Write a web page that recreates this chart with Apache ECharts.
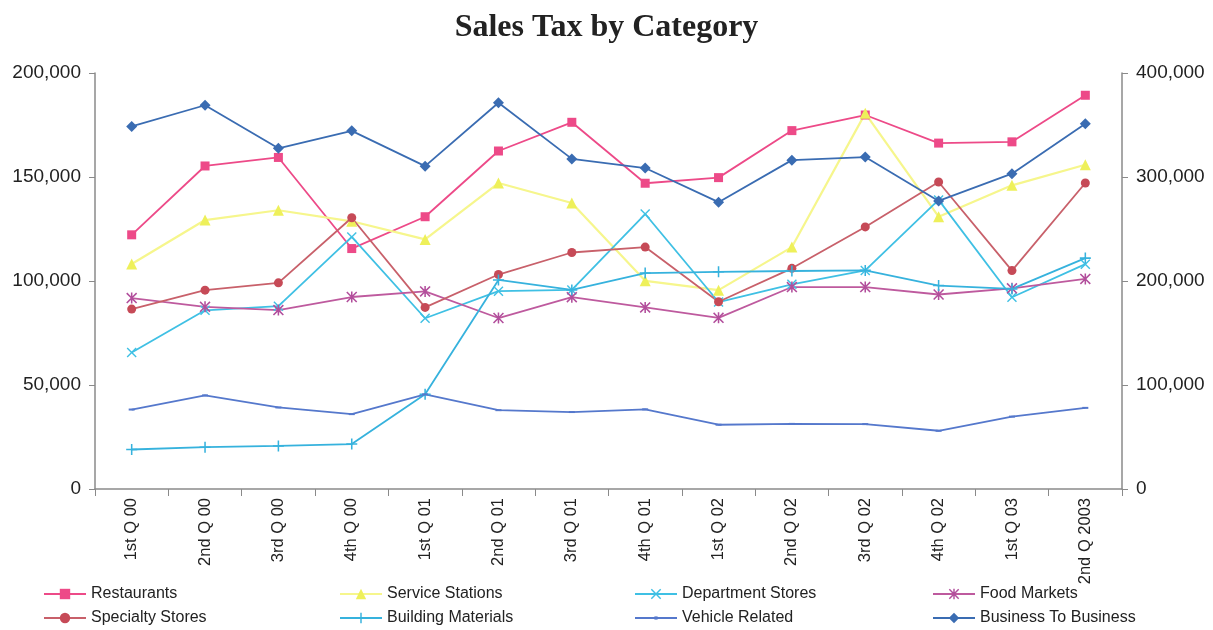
<!DOCTYPE html>
<html>
<head>
<meta charset="utf-8">
<title>Sales Tax by Category</title>
<script src="https://cdn.jsdelivr.net/npm/echarts@6/dist/echarts.min.js"></script>
<style>
  html, body { margin: 0; padding: 0; background: #ffffff; }
  #chart { width: 1213px; height: 630px; }
</style>
</head>
<body>
<div id="chart"></div>
<script>
// Quarterly periods on the x axis
const categories = ['1st Q 00', '2nd Q 00', '3rd Q 00', '4th Q 00', '1st Q 01', '2nd Q 01', '3rd Q 01',
  '4th Q 01', '1st Q 02', '2nd Q 02', '3rd Q 02', '4th Q 02', '1st Q 03', '2nd Q 2003'];

// Sales tax per category (left-axis units)
const restaurants        = [122200, 155300, 159400, 115600, 130900, 162500, 176300, 147000, 149700, 172300, 179800, 166300, 166900, 189300];
const serviceStations    = [108200, 129300, 134000, 128700, 120000, 147100, 137500, 100100,  95600, 116300, 180600, 130900, 146000, 155900];
const departmentStores   = [ 65600,  85900,  87900, 121200,  82100,  95100,  95700, 132200,  89900,  98400, 105100, 139000,  92200, 108100];
const foodMarkets        = [ 91800,  87600,  86000,  92300,  95000,  82200,  92200,  87300,  82300,  97100,  97100,  93500,  96500, 101000];
const specialtyStores    = [ 86500,  95600,  99100, 130400,  87300, 103100, 113700, 116300,  90000, 106100, 126000, 147600, 105000, 147100];
const buildingMaterials  = [ 19000,  20100,  20700,  21600,  45500, 100500,  95700, 103800, 104400, 104800, 105100,  97800,  96200, 111000];
const vehicleRelated     = [ 38200,  45000,  39200,  36000,  45500,  37900,  37000,  38300,  30900,  31300,  31200,  28000,  34800,  39000];
const businessToBusiness = [174300, 184500, 163800, 172200, 155200, 185700, 158700, 154300, 137900, 158100, 159600, 138500, 151600, 175600];

// Axis scales
const leftAxis  = { min: 0, max: 200000, step: 50000 };
const rightAxis = { min: 0, max: 400000, step: 100000 };

// Marker shapes not built into ECharts
const crossPath = 'path://M0,1L1,0L5,4L9,0L10,1L6,5L10,9L9,10L5,6L1,10L0,9L4,5Z';
const starPath  = 'path://M0,1L1,0L5,4L9,0L10,1L6,5L10,9L9,10L5,6L1,10L0,9L4,5Z M4.3,0L5.7,0L5.7,10L4.3,10Z';
const plusPath  = 'path://M4.3,0L5.7,0L5.7,4.3L10,4.3L10,5.7L5.7,5.7L5.7,10L4.3,10L4.3,5.7L0,5.7L0,4.3L4.3,4.3Z';

const FONT = '"Liberation Sans", Arial, sans-serif';
const fmt = v => Number(v).toLocaleString('en-US');

function lineSeries(name, data, color, symbol, size, lineColor, width) {
  return {
    name: name,
    type: 'line',
    data: data,
    symbol: symbol,
    symbolSize: size,
    showAllSymbol: true,
    lineStyle: { color: lineColor || color, width: width || 1.8 },
    itemStyle: { color: color },
    emphasis: { disabled: true },
    animation: false,
    z: 2
  };
}

const series = [
  lineSeries('Restaurants', restaurants, '#ED4A88', 'rect', 9),
  lineSeries('Service Stations', serviceStations, '#EEF05A', 'triangle', 11, '#F6F68C', 2.2),
  lineSeries('Department Stores', departmentStores, '#3FC0E4', crossPath, 10),
  lineSeries('Food Markets', foodMarkets, '#B24E9C', starPath, 11, '#BE5A9E'),
  lineSeries('Specialty Stores', specialtyStores, '#C64A57', 'circle', 9, '#C8606A'),
  lineSeries('Building Materials', buildingMaterials, '#36B2DD', plusPath, 11),
  lineSeries('Vehicle Related', vehicleRelated, '#5578CC', 'rect', [6, 2]),
  lineSeries('Business To Business', businessToBusiness, '#3A6CB2', 'diamond', 11)
];

// One legend entry per component so each sits in its own column/row
function legendItem(name, left, top, iconHeight) {
  return {
    left: left,
    top: top,
    itemWidth: 42,
    itemHeight: iconHeight || 13,
    data: [name],
    selectedMode: false,
    textStyle: { fontFamily: FONT, fontSize: 16, color: '#222' }
  };
}

const chart = echarts.init(document.getElementById('chart'), null, { renderer: 'canvas' });
chart.setOption({
  backgroundColor: '#ffffff',
  animation: false,
  title: {
    text: 'Sales Tax by Category',
    left: 'center',
    top: 7,
    textStyle: { fontFamily: '"Liberation Serif", "Times New Roman", serif', fontWeight: 'bold', fontSize: 32, color: '#222' }
  },
  legend: [
    legendItem('Restaurants', 38, 581),
    legendItem('Service Stations', 334, 581),
    legendItem('Department Stores', 629, 581),
    legendItem('Food Markets', 927, 581),
    legendItem('Specialty Stores', 38, 605),
    legendItem('Building Materials', 334, 605),
    legendItem('Vehicle Related', 629, 605, 4),
    legendItem('Business To Business', 927, 605)
  ],
  grid: { left: 95, right: 91, top: 73, bottom: 141, containLabel: false },
  xAxis: {
    type: 'category',
    data: categories,
    boundaryGap: true,
    axisLine: { lineStyle: { color: '#8a8a8a', width: 1.5 } },
    axisTick: { show: true, alignWithLabel: false, length: 7, lineStyle: { color: '#8a8a8a' } },
    axisLabel: { rotate: 90, interval: 0, margin: 9, fontFamily: FONT, fontSize: 16.5, color: '#222' },
    splitLine: { show: false }
  },
  yAxis: [
    {
      type: 'value',
      position: 'left',
      min: leftAxis.min, max: leftAxis.max, interval: leftAxis.step,
      axisLine: { show: true, lineStyle: { color: '#8a8a8a', width: 1.5 } },
      axisTick: { show: true, length: 6, lineStyle: { color: '#8a8a8a' } },
      axisLabel: { margin: 14, fontFamily: FONT, fontSize: 19, color: '#222', formatter: fmt },
      splitLine: { show: false }
    },
    {
      type: 'value',
      position: 'right',
      min: rightAxis.min, max: rightAxis.max, interval: rightAxis.step,
      axisLine: { show: true, lineStyle: { color: '#8a8a8a', width: 1.5 } },
      axisTick: { show: true, length: 6, lineStyle: { color: '#8a8a8a' } },
      axisLabel: { margin: 14, fontFamily: FONT, fontSize: 19, color: '#222', formatter: fmt },
      splitLine: { show: false }
    }
  ],
  series: series
});
</script>
</body>
</html>
